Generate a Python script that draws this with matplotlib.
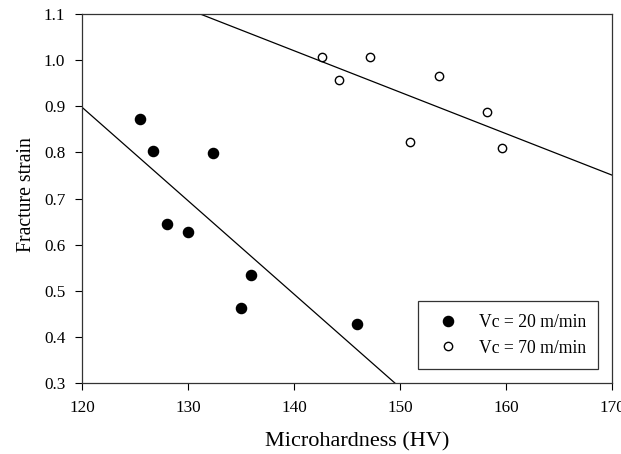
import numpy as np
import matplotlib
matplotlib.use("Agg")
import matplotlib.pyplot as plt

plt.rcParams['font.family'] = ['Liberation Serif', 'DejaVu Serif']

hv_20 = [125.5, 126.7, 132.4, 128.0, 130.0, 135.9, 135.0, 145.9]
strain_20 = [0.872, 0.803, 0.799, 0.644, 0.627, 0.535, 0.462, 0.428]
hv_70 = [142.6, 144.2, 147.2, 153.7, 150.9, 158.2, 159.6]
strain_70 = [1.007, 0.958, 1.007, 0.966, 0.823, 0.887, 0.809]
x_ticks = [120, 130, 140, 150, 160, 170]
y_ticks = [0.3, 0.4, 0.5, 0.6, 0.7, 0.8, 0.9, 1.0, 1.1]

fig = plt.figure(figsize=(6.21, 4.54), dpi=100)
ax = fig.add_axes([0.132, 0.1564, 0.8535, 0.8126])

xs = np.array([100, 190])
for hv, st in ((hv_20, strain_20), (hv_70, strain_70)):
    m, b = np.polyfit(hv, st, 1)
    ax.plot(xs, m * xs + b, color='black', lw=0.9)

ax.plot(hv_20, strain_20, 'o', color='black', ms=7.3, mec='black',
        label='Vc = 20 m/min', zorder=3)
ax.plot(hv_70, strain_70, 'o', mfc='white', mec='black', mew=1.0, ms=6.0,
        label='Vc = 70 m/min', zorder=3)

ax.set_xlim(120, 170)
ax.set_ylim(0.3, 1.1)
ax.set_xticks(x_ticks)
ax.set_yticks(y_ticks)
ax.set_xticklabels([str(t) for t in x_ticks])
ax.set_yticklabels([f"{t:.1f}" for t in y_ticks])
ax.tick_params(direction='out', length=5, width=0.8, labelsize=12.3, pad=7)
for s in ax.spines.values():
    s.set_linewidth(0.9)
    s.set_color('#333333')

ax.set_xlabel('Microhardness (HV)', fontsize=16)
ax.xaxis.set_label_coords(0.52, -0.133)
ax.set_ylabel('Fracture strain', fontsize=14.2)
ax.yaxis.set_label_coords(-0.087, 0.512)

leg = ax.legend(loc='lower right', bbox_to_anchor=(0.974, 0.038), frameon=True,
                fancybox=False, edgecolor='black', fontsize=12.7,
                markerscale=1.0, handlelength=2.0, handletextpad=0.75,
                borderpad=0.7, labelspacing=0.5, borderaxespad=0)
leg.get_frame().set_linewidth(0.9)

fig.savefig('out.png', dpi=100)
